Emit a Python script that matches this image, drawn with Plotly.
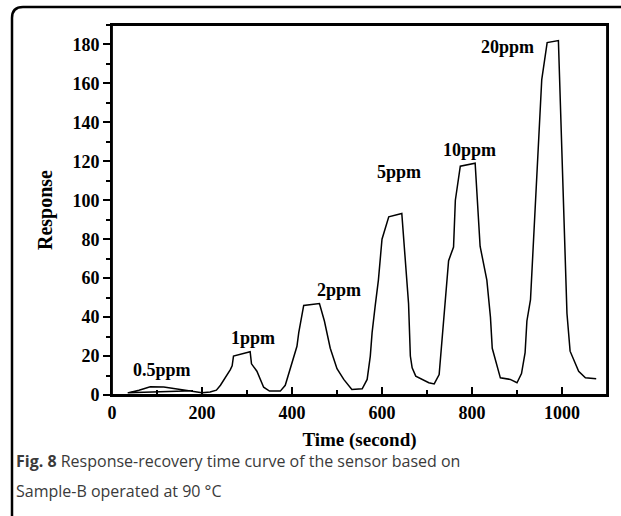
import plotly.graph_objects as go

# ---- data ----
time_s = [180, 100, 35, 60, 85, 115, 150, 180, 200, 218, 232, 241, 255, 263, 267, 270,
          307, 310, 322, 330, 337, 350, 374, 385, 400, 411, 415, 426, 461, 472, 485,
          500, 515, 524, 533, 556, 567, 574, 578, 585, 592, 600, 615, 644, 652, 659,
          663, 667, 675, 704, 716, 727, 748, 759, 763, 774, 807, 818, 833, 841, 845,
          859, 863, 885, 900, 910, 918, 922, 930, 955, 967, 992, 1011, 1018, 1037,
          1052, 1076]
response = [2.2, 1.6, 1.1, 2.4, 4.2, 4.1, 3.0, 2.2, 1.2, 1.5, 2.5, 5.0, 9.7, 13, 15, 20,
            22.2, 16, 12.2, 8, 4, 2.0, 2.0, 5.0, 16, 25, 32, 46, 47, 38, 24,
            13.5, 8, 5.5, 2.8, 3.2, 8, 20, 32, 46, 59, 80, 91.5, 93.2, 70, 47,
            20, 14, 9.7, 6.3, 5.7, 10.5, 69, 76, 100, 117.5, 119, 76.4, 59, 40, 24,
            13, 8.8, 8, 6.3, 11, 21.7, 38, 49, 162, 181, 182, 42, 22.5, 12.2,
            8.8, 8.3]

label_text = ["0.5ppm", "1ppm", "2ppm", "5ppm", "10ppm", "20ppm"]
label_x = [112, 314, 505, 638, 794, 878]
label_y = [12.6, 29.5, 54, 114.7, 126, 178.5]

x_ticks = [0, 200, 400, 600, 800, 1000]
y_ticks = [0, 20, 40, 60, 80, 100, 120, 140, 160, 180]

caption_line1_bold = "Fig. 8"
caption_line1_rest = " Response-recovery time curve of the sensor based on"
caption_line2 = "Sample-B operated at 90 \u00b0C"

# ---- layout geometry (pixels) ----
W, H = 621, 516
ML, MR, MT, MB = 112, 14, 25, 121
PW, PH = W - ML - MR, H - MT - MB

def px(x):
    return (x - ML) / PW

def py(y):
    return (H - MB - y) / PH

SERIF = "Liberation Serif, Times New Roman, serif"
SANS = "Open Sans, Noto Sans, sans-serif"

fig = go.Figure()
fig.add_trace(go.Scatter(x=time_s, y=response, mode="lines",
                         line=dict(color="black", width=1.5),
                         showlegend=False, hoverinfo="skip"))

for t, x, y in zip(label_text, label_x, label_y):
    fig.add_annotation(x=x, y=y, text=t, showarrow=False,
                       font=dict(family=SERIF, size=18, color="black", weight="bold"))

# caption (two lines)
fig.add_annotation(xref="paper", yref="paper", x=px(14), y=py(461),
                   xanchor="left", yanchor="middle", align="left",
                   text="<b>" + caption_line1_bold + "</b>" + caption_line1_rest,
                   showarrow=False,
                   font=dict(family=SANS, size=16, color="#3a3a3a"))
fig.add_annotation(xref="paper", yref="paper", x=px(14), y=py(491),
                   xanchor="left", yanchor="middle", align="left",
                   text=caption_line2, showarrow=False,
                   font=dict(family=SANS, size=16, color="#3a3a3a"))

# plot-area box (right/top edges)
fig.add_shape(type="rect", xref="paper", yref="paper", x0=0, x1=1, y0=0, y1=1,
              line=dict(color="black", width=1.8), layer="above")

# outer rounded frame
r = 11
L, T, R, B = 12, 7, 650, 528
path = (f"M {px(L)} {py(B)} L {px(L)} {py(T + r)} "
        f"Q {px(L)} {py(T)} {px(L + r)} {py(T)} L {px(R)} {py(T)} "
        f"M {px(L)} {py(B - r)} Q {px(L)} {py(B)} {px(L + r)} {py(B)} L {px(R)} {py(B)}")
fig.add_shape(type="path", xref="paper", yref="paper", path=path,
              line=dict(color="black", width=2.5))

axis_common = dict(showline=True, linecolor="black", linewidth=1.8, mirror=True,
                   showgrid=False, zeroline=False, tickcolor="black",
                   tickfont=dict(family=SERIF, size=18, color="black", weight="bold"))

fig.update_xaxes(range=[0, 1100], tickvals=x_ticks, ticks="inside", ticklen=8, tickwidth=1.5,
                 minor=dict(ticks="inside", dtick=100, tick0=0, ticklen=5, tickwidth=1.5, tickcolor="black"),
                 title=dict(text="<b>Time (second)</b>", standoff=11,
                            font=dict(family=SERIF, size=19, color="black")),
                 **axis_common)
fig.update_yaxes(range=[0, 190], tickvals=y_ticks, ticks="outside", ticklen=7, tickwidth=1.5,
                 minor=dict(ticks="outside", dtick=10, tick0=0, ticklen=4, tickwidth=1.5, tickcolor="black"),
                 title=dict(text="<b>Response</b>", standoff=15,
                            font=dict(family=SERIF, size=20, color="black")),
                 **axis_common)

fig.update_layout(width=W, height=H, margin=dict(l=ML, r=MR, t=MT, b=MB),
                  paper_bgcolor="white", plot_bgcolor="white")

fig.write_html("out.html", config={"displayModeBar": False},
               post_script="document.body.style.margin='0';document.body.style.overflow='hidden';"
                           "document.documentElement.style.overflow='hidden';")
